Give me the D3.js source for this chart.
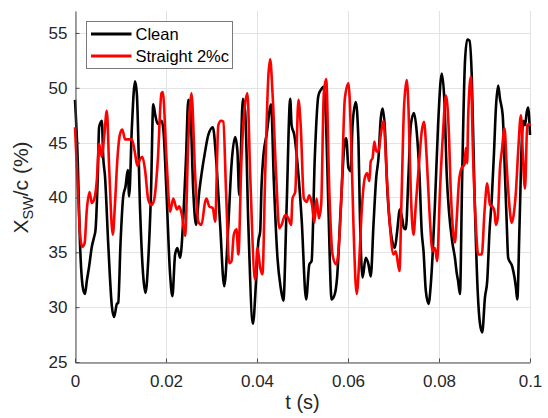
<!DOCTYPE html>
<html><head><meta charset="utf-8">
<script src="https://cdn.jsdelivr.net/npm/d3@7"></script>
<style>
html,body{margin:0;padding:0;background:#fff;}
svg{display:block;font-family:"Liberation Sans",Arial,Helvetica,sans-serif;}
</style>
</head><body>
<svg id="chart" width="548" height="418"></svg>
<script>
const xTicks = [0, 0.02, 0.04, 0.06, 0.08, 0.1];
const xTickLabels = ["0", "0.02", "0.04", "0.06", "0.08", "0.1"];
const yTicks = [25, 30, 35, 40, 45, 50, 55];
const seriesNames = ["Clean", "Straight 2%c"];

const cleanT = [0.0000,0.0006,0.0011,0.0018,0.0022,0.0026,0.0031,0.0037,0.0042,0.0045,0.0050,0.0053,0.0059,0.0062,0.0066,0.0073,0.0081,0.0086,0.0092,0.0095,0.0100,0.0106,0.0111,0.0116,0.0119,0.0125,0.0132,0.0136,0.0143,0.0150,0.0155,0.0161,0.0167,0.0172,0.0176,0.0182,0.0190,0.0194,0.0201,0.0209,0.0214,
0.0220,0.0225,0.0231,0.0238,0.0244,0.0249,0.0253,0.0260,0.0266,0.0273,0.0278,0.0286,0.0293,0.0303,0.0310,0.0319,0.0328,0.0337,0.0344,0.0352,0.0357,0.0361,0.0369,0.0374,0.0381,0.0391,
0.0398,0.0403,0.0407,0.0410,0.0414,0.0421,0.0431,0.0437,0.0445,0.0452,0.0458,0.0465,0.0473,0.0476,0.0482,0.0491,0.0498,0.0508,0.0515,0.0520,0.0527,0.0535,0.0542,0.0546,0.0552,0.0557,0.0564,0.0571,0.0576,0.0584,0.0593,
0.0596,0.0601,0.0606,0.0610,0.0617,0.0623,0.0626,0.0632,0.0639,0.0645,0.0650,0.0656,0.0662,0.0667,0.0672,0.0676,0.0681,0.0686,0.0696,0.0703,0.0708,0.0714,0.0719,0.0723,0.0727,0.0733,0.0738,0.0745,0.0751,0.0757,0.0762,0.0766,0.0771,0.0777,0.0782,0.0786,0.0791,
0.0798,0.0806,0.0812,0.0817,0.0822,0.0829,0.0835,0.0839,0.0842,0.0846,0.0851,0.0857,0.0862,0.0867,0.0872,0.0878,0.0885,0.0890,0.0895,0.0901,0.0906,0.0911,0.0916,0.0921,0.0925,0.0930,0.0934,0.0940,0.0945,0.0949,0.0952,0.0961,0.0966,0.0969,0.0972,0.0977,0.0982,0.0985,0.0989,0.0993,0.0996,0.1000];
const cleanV = [48.9,43.4,35.8,31.6,31.2,32.4,33.7,35.5,36.4,37.0,41.9,46.4,47.0,43.7,41.9,35.8,30.1,29.1,30.3,30.4,35.8,40.1,41.0,42.5,40.1,46.4,50.6,49.4,38.9,32.8,31.3,34.3,40.4,48.5,47.6,46.7,47.0,46.3,40.5,33.0,31.0,
34.8,35.4,34.5,38.1,43.6,48.9,48.4,40.5,37.5,40.5,42.1,44.2,45.7,46.4,43.6,37.5,31.9,37.5,43.0,45.5,44.2,40.2,49.0,47.8,37.5,28.5,
32.4,36.0,36.9,41.1,43.8,45.7,48.5,41.5,34.5,31.8,30.6,39.0,49.0,46.6,45.7,42.1,38.1,30.7,33.9,34.2,43.6,49.3,49.9,50.1,46.6,39.0,30.7,31.2,32.7,39.0,45.1,
45.4,42.7,42.4,46.6,48.7,45.1,38.7,32.7,34.5,33.9,32.8,37.5,41.8,43.6,47.2,48.1,46.3,41.1,36.3,35.4,36.9,38.9,38.1,37.2,37.1,42.1,46.6,47.7,46.0,42.1,36.9,35.1,31.5,30.3,32.1,34.8,39.3,
46.6,51.3,48.7,42.1,38.7,36.0,34.5,33.1,32.4,31.2,42.1,52.3,54.4,54.3,51.1,40.5,31.5,28.5,27.7,30.9,32.4,36.9,39.9,44.2,48.1,50.2,49.0,47.5,42.1,37.5,34.5,33.7,32.7,31.8,30.7,37.5,45.1,47.0,46.6,47.8,48.2,45.7];

const straightT = [0.0000,0.0006,0.0011,0.0016,0.0021,0.0026,0.0032,0.0037,0.0042,0.0048,0.0053,0.0059,0.0064,0.0070,0.0075,0.0083,0.0088,0.0093,0.0099,0.0104,0.0110,0.0117,0.0125,0.0132,0.0137,0.0143,0.0148,0.0154,0.0161,0.0168,0.0174,0.0182,0.0190,0.0193,
0.0201,0.0209,0.0216,0.0224,0.0229,0.0235,0.0242,0.0249,0.0256,0.0264,0.0271,0.0278,0.0286,0.0289,0.0295,0.0303,0.0308,0.0315,0.0321,0.0326,0.0332,0.0339,0.0344,0.0349,0.0355,0.0359,0.0366,0.0379,0.0385,0.0396,
0.0401,0.0407,0.0412,0.0418,0.0425,0.0429,0.0434,0.0442,0.0449,0.0454,0.0462,0.0469,0.0475,0.0478,0.0484,0.0491,0.0496,0.0503,0.0509,0.0515,0.0521,0.0526,0.0531,0.0536,0.0541,0.0547,0.0552,0.0559,0.0566,0.0574,0.0579,0.0586,0.0593,
0.0601,0.0607,0.0612,0.0619,0.0625,0.0630,0.0637,0.0642,0.0647,0.0650,0.0654,0.0658,0.0662,0.0667,0.0672,0.0678,0.0685,0.0692,0.0700,0.0705,0.0713,0.0718,0.0723,0.0729,0.0733,0.0738,0.0744,0.0749,0.0757,0.0762,0.0767,0.0773,0.0779,0.0786,0.0791,
0.0796,0.0802,0.0809,0.0815,0.0821,0.0826,0.0831,0.0835,0.0839,0.0844,0.0850,0.0856,0.0859,0.0862,0.0864,0.0870,0.0875,0.0881,0.0886,0.0894,0.0900,0.0906,0.0912,0.0917,0.0922,0.0925,0.0929,0.0934,0.0938,0.0944,0.0949,0.0954,0.0960,0.0965,0.0969,0.0974,0.0980,0.0984,0.0989,0.0994,0.0998,0.1000];
const straightV = [46.4,41.0,36.7,35.5,35.8,38.9,40.5,39.5,39.8,41.6,44.9,43.7,45.5,47.9,42.8,36.6,39.5,43.4,45.8,46.2,45.3,45.3,45.3,44.0,42.9,43.5,43.7,42.5,39.8,39.3,39.8,43.4,49.5,49.6,
43.6,38.7,39.9,38.9,39.2,38.4,36.5,45.1,49.5,42.1,37.8,37.5,39.6,39.9,39.2,39.0,37.8,46.6,47.0,46.9,40.5,34.0,34.2,36.6,37.1,34.8,43.6,49.5,42.1,32.5,
35.4,33.6,33.0,42.1,51.1,52.6,49.6,42.1,37.2,37.5,38.4,38.1,37.5,39.9,40.5,48.9,46.6,39.9,39.6,40.2,39.3,37.7,39.9,38.1,39.3,49.6,50.8,40.5,34.8,33.9,35.1,40.5,49.0,
50.4,45.1,37.5,31.2,34.5,38.7,41.8,42.2,41.5,43.3,43.6,45.1,44.2,44.2,45.7,47.0,42.1,37.5,34.8,35.1,33.3,40.5,48.1,50.7,48.1,40.5,36.6,39.3,43.6,46.0,46.9,43.6,38.7,35.1,35.4,
34.2,40.5,46.0,49.3,46.6,40.5,36.9,35.9,38.1,41.5,42.7,43.0,44.5,43.1,47.2,51.0,43.6,37.5,34.8,34.8,38.7,41.3,39.3,39.2,38.7,37.5,38.1,42.7,44.2,46.3,42.7,39.6,37.7,38.7,40.5,44.2,47.5,44.2,40.8,46.6,46.7,46.5];

const colors = ["#000000", "#ff0000"];

const svg = d3.select("#chart");
const L = 75, R = 530, T = 11, B = 362;
const x = d3.scaleLinear().domain([0, 0.1]).range([L, R]);
const y = d3.scaleLinear().domain([25, 57]).range([B, T]);

const grid = svg.append("g").attr("stroke", "#e3e3e3").attr("stroke-width", 1);
xTicks.forEach(t => grid.append("line")
  .attr("x1", Math.round(x(t)) + 0.5).attr("x2", Math.round(x(t)) + 0.5)
  .attr("y1", T).attr("y2", B));
yTicks.forEach(v => grid.append("line")
  .attr("x1", L).attr("x2", R)
  .attr("y1", Math.round(y(v)) + 0.5).attr("y2", Math.round(y(v)) + 0.5));

const line = d3.line().x(d => x(d[0])).y(d => y(d[1])).curve(d3.curveMonotoneX);
const series = [
  cleanT.map((t, i) => [t, cleanV[i]]),
  straightT.map((t, i) => [t, straightV[i]])
];
series.forEach((s, i) => {
  svg.append("path").datum(s)
    .attr("fill", "none").attr("stroke", colors[i])
    .attr("stroke-width", 2.6).attr("stroke-linejoin", "round")
    .attr("d", line);
});

const axisColor = "#4a4a4a";
const xAxis = d3.axisBottom(x).tickValues(xTicks)
  .tickFormat((d, i) => xTickLabels[i]).tickSizeInner(-4).tickSizeOuter(0).tickPadding(12);
const gx = svg.append("g").attr("transform", `translate(0,${B + 0.5})`).call(xAxis);
const yAxis = d3.axisLeft(y).tickValues(yTicks).tickFormat(d3.format("d"))
  .tickSizeInner(-4).tickSizeOuter(0).tickPadding(8);
const gy = svg.append("g").attr("transform", `translate(${L + 0.5},0)`).call(yAxis);
[gx, gy].forEach(g => {
  g.select(".domain").attr("stroke", axisColor);
  g.selectAll(".tick line").attr("stroke", axisColor);
  g.selectAll(".tick text").attr("fill", "#262626").style("font-size", "17px")
    .style("font-family", '"Liberation Sans",Arial,Helvetica,sans-serif');
});

svg.append("text").attr("x", (L + R) / 2).attr("y", 409)
  .attr("text-anchor", "middle").attr("fill", "#262626")
  .style("font-size", "20px").text("t (s)");

const yl = svg.append("text")
  .attr("transform", "translate(28,187.5) rotate(-90)")
  .attr("text-anchor", "middle").attr("fill", "#262626")
  .style("font-size", "21px");
yl.append("tspan").text("X");
yl.append("tspan").attr("dy", 5).style("font-size", "14.5px").text("SW");
yl.append("tspan").attr("dy", -5).text("/c (%)");

const lg = svg.append("g");
lg.append("rect").attr("x", 86.5).attr("y", 21.5).attr("width", 146).attr("height", 47)
  .attr("fill", "#fff").attr("stroke", "#7a7a7a").attr("stroke-width", 1);
const lgY = [34, 56];
seriesNames.forEach((n, i) => {
  lg.append("line").attr("x1", 91).attr("x2", 131.5).attr("y1", lgY[i]).attr("y2", lgY[i])
    .attr("stroke", colors[i]).attr("stroke-width", 2.8);
  lg.append("text").attr("x", 135.5).attr("y", lgY[i] + 6)
    .attr("fill", "#000").style("font-size", "16.5px").text(n);
});
</script>
</body></html>
